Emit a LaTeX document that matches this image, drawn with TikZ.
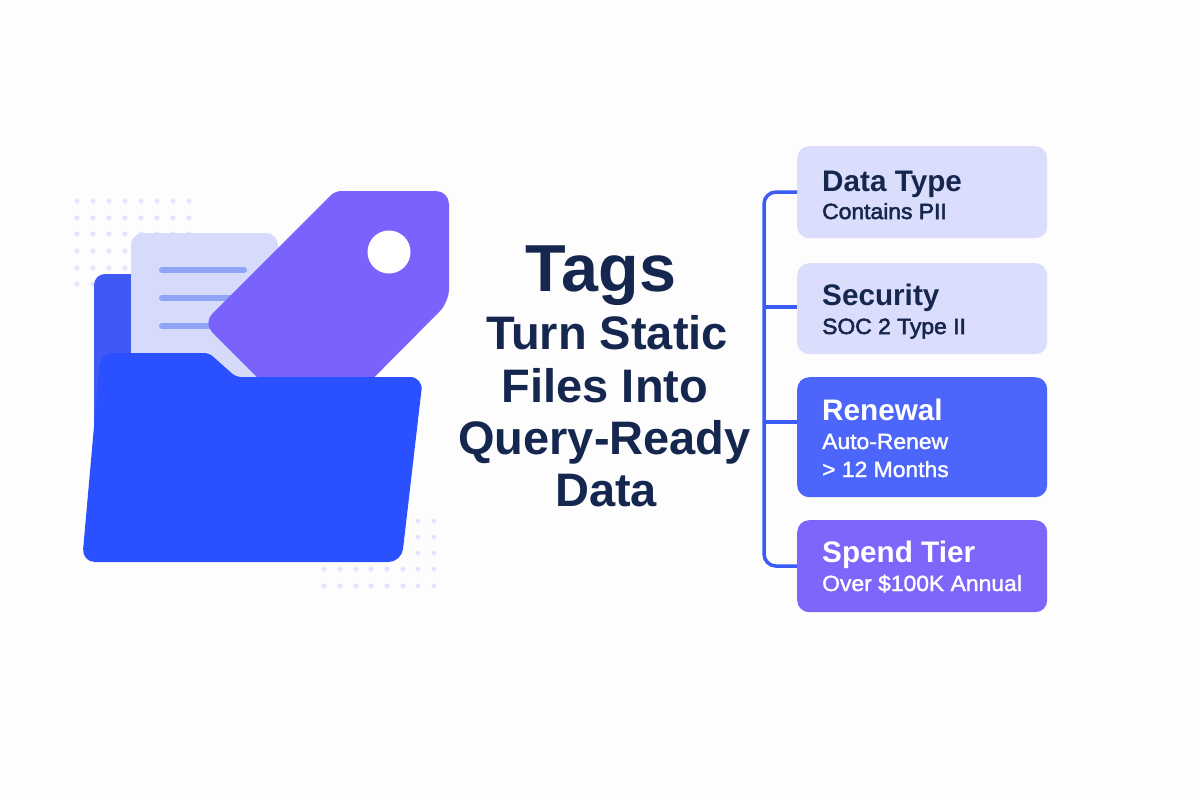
\documentclass[tikz,border=0pt]{standalone}
\usepackage{fontspec}
\setmainfont{Liberation Sans}
\newfontfamily\medf{Liberation Sans Bold}
\newfontfamily\subf[FakeBold=2.5,FakeStretch=1.04]{Liberation Sans}
\newfontfamily\subw[FakeBold=1.5,FakeStretch=1.04]{Liberation Sans}
\newfontfamily\headf{Liberation Sans Bold}
\definecolor{bgc}{HTML}{FDFDFE}
\definecolor{ink}{HTML}{16274F}
\definecolor{backblue}{HTML}{3F59F5}
\definecolor{frontblue}{HTML}{2B50FF}
\definecolor{tagv}{HTML}{7A62FD}
\definecolor{paper}{HTML}{D6DBFB}
\definecolor{paperline}{HTML}{8FA6F8}
\definecolor{dotc}{HTML}{E4E6FA}
\definecolor{lightbox}{HTML}{DADDFB}
\definecolor{renewc}{HTML}{4C65FA}
\definecolor{spendc}{HTML}{7F65FA}
\definecolor{linkc}{HTML}{3B5BF5}
\tikzset{
  cardbox/.style={rounded corners=12pt,minimum width=250pt,anchor=north west,inner sep=0pt},
  heading/.style={anchor=base west,inner sep=0pt,font=\medf\fontsize{29.7}{30}\selectfont},
  subtext/.style={anchor=base west,inner sep=0pt,font=\subf\fontsize{22}{22}\selectfont},
  subwhite/.style={subtext,text=white,font=\subw\fontsize{22}{22}\selectfont},
  title/.style={anchor=base,inner sep=0pt,text=ink},
  titlebig/.style={title,font=\headf\fontsize{66.5}{66}\selectfont},
  titleline/.style={title,font=\headf\fontsize{47}{47}\selectfont},
  conn/.style={draw=linkc,line width=3.5pt,rounded corners=12pt},
  branch/.style={draw=linkc,line width=3.5pt},
  pdot/.style={fill=dotc,draw=none},
}
\begin{document}
\begin{tikzpicture}[x=1pt,y=-1pt]
\useasboundingbox (0,0) rectangle (1200,800);
\fill[bgc] (0,0) rectangle (1200,800);
% dot grids
\foreach \x in {77,93,109,125,141,157,173,189}
  \foreach \y in {201,218,234,251,268,284}
    \fill[pdot] (\x,\y) circle[radius=2.6pt];
\foreach \x in {324,340,356,371,387,403,418,434}
  \foreach \y in {569,586}
    \fill[pdot] (\x,\y) circle[radius=2.6pt];
\foreach \x in {418,434}
  \foreach \y in {521,537,553}
    \fill[pdot] (\x,\y) circle[radius=2.6pt];
% folder back
\fill[backblue,rounded corners=11pt] (94,274) rectangle (200,480);
% paper
\fill[paper,rounded corners=12pt] (131,233) rectangle (278,395);
\foreach \y in {270,298,326}
  \draw[paperline,line width=6pt,line cap=round] (162,\y) -- (244,\y);
% tag
\fill[tagv,rounded corners=6pt] (335,191) [rounded corners=13pt] -- (449,191) -- (449,302) -- (316,436) -- (203,323) [rounded corners=6pt] -- cycle;
\fill[white] (389,252) circle[radius=21.5pt];
% folder front
\fill[frontblue,rounded corners=13pt] (100.5,353) [rounded corners=5pt] -- (209,353) -- (236,377) [rounded corners=13pt] -- (423,377) -- (401.5,562) -- (82,562) -- cycle;
% cards
\node[cardbox,fill=lightbox,minimum height=92pt] (b1) at (797,146) {};
\node[cardbox,fill=lightbox,minimum height=91pt] (b2) at (797,263) {};
\node[cardbox,fill=renewc,minimum height=120pt] (b3) at (797,377) {};
\node[cardbox,fill=spendc,minimum height=92pt] (b4) at (797,520) {};
% connectors
\coordinate (sT) at (764,192);
\coordinate (sB) at (764,566);
\coordinate (j2) at (764,307);
\coordinate (j3) at (764,422);
\draw[conn] (b1.west) -- (sT) -- (sB) -- (b4.west);
\draw[branch] (j2) -- (j2 -| b2.west);
\draw[branch] (j3) -- (j3 -| b3.west);
% card text
\node[heading,text=ink] (t1) at (822,191) {Data Type};
\node[subtext,text=ink] (s1) at (822,219) {Contains PII};
\node[heading,text=ink] (t2) at (822,305) {Security};
\node[subtext,text=ink] (s2) at (822,334) {SOC 2 Type II};
\node[heading,text=white] (t3) at (822,420) {Renewal};
\node[subwhite] (s3a) at (822,449) {Auto-Renew};
\node[subwhite] (s3b) at (822,477) {> 12 Months};
\node[heading,text=white] (t4) at (822,562) {Spend Tier};
\node[subwhite] (s4) at (822,591) {Over \$100K Annual};
% title
\node[titlebig] (m0) at (601,291) {Tags};
\node[titleline] (m1) at (607,349) {Turn Static};
\node[titleline] (m2) at (605,402) {Files Into};
\node[titleline] (m3) at (604.5,454) {Query-Ready};
\node[titleline] (m4) at (606,506) {Data};
\end{tikzpicture}
\end{document}
